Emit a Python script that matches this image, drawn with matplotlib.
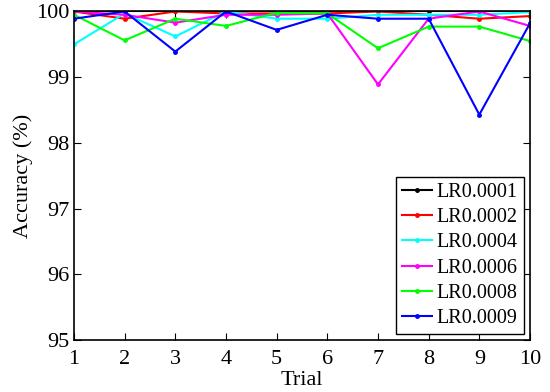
import numpy as np
import matplotlib.pyplot as plt

plt.rcParams['font.family'] = ['Liberation Serif', 'DejaVu Serif']

trials = np.arange(1, 11)
labels = ['LR0.0001', 'LR0.0002', 'LR0.0004', 'LR0.0006', 'LR0.0008', 'LR0.0009']
colors = ['black', 'red', 'cyan', 'magenta', 'lime', 'blue']

acc_0001 = [100, 100, 100, 100, 100, 100, 100, 100, 100, 100]
acc_0002 = [100, 99.89, 100, 99.97, 99.97, 99.97, 100, 99.95, 99.89, 99.93]
acc_0004 = [99.5, 99.97, 99.62, 100, 99.89, 99.89, 99.95, 99.95, 99.95, 99.99]
acc_0006 = [100, 99.95, 99.83, 99.95, 99.95, 99.97, 98.89, 99.89, 100, 99.78]
acc_0008 = [99.95, 99.56, 99.89, 99.78, 99.98, 99.97, 99.44, 99.77, 99.77, 99.55]
acc_0009 = [99.89, 100, 99.39, 100, 99.72, 99.95, 99.89, 99.89, 98.43, 99.82]

series = [acc_0001, acc_0002, acc_0004, acc_0006, acc_0008, acc_0009]

fig = plt.figure(figsize=(5.5, 3.92), dpi=100)
ax = fig.add_axes([0.1345, 0.1327, 0.8291, 0.838])

for vals, lab, col in zip(series, labels, colors):
    ax.plot(trials, vals, color=col, marker='.', markersize=5, linewidth=1.5, label=lab)

ax.set_xlim(1, 10)
ax.set_ylim(95, 100)
ax.set_xticks(trials)
ax.set_yticks(np.arange(95, 101, 1))
ax.tick_params(direction='in', labelsize=16, length=5, top=True, right=True)
ax.tick_params(axis='x', pad=7)
ax.set_xlabel('Trial', fontsize=16, labelpad=2)
ax.set_ylabel('Accuracy (%)', fontsize=16, labelpad=2)
for s in ax.spines.values():
    s.set_linewidth(1.2)

leg = ax.legend(loc='lower right', fontsize=14.5, fancybox=False, framealpha=1,
                edgecolor='black', borderaxespad=0.3, handlelength=1.5,
                labelspacing=0.3, borderpad=0.3, handletextpad=0.25)
leg.get_frame().set_linewidth(1.0)

fig.savefig('out.png', dpi=100)
